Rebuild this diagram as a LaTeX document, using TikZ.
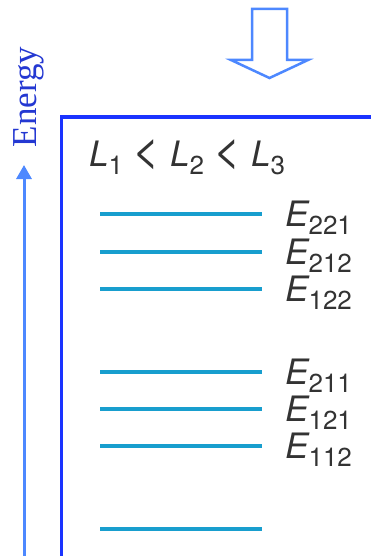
\documentclass[tikz,border=0pt]{standalone}
\usepackage{fontspec}
\setmainfont{TeX Gyre Heros}
\newfontfamily\serifword{Liberation Serif}
\usetikzlibrary{arrows.meta}
\definecolor{wallblue}{RGB}{26,51,255}
\definecolor{arrowblue}{RGB}{77,136,255}
\definecolor{wordblue}{RGB}{36,56,210}
\definecolor{levelcyan}{RGB}{24,158,206}
\definecolor{labelgray}{RGB}{51,51,51}
\newcommand{\bigfont}{\fontsize{35}{40}\selectfont}
\newcommand{\subfont}{\fontsize{26}{29}\selectfont}
\newcommand{\lab}[2]{{\itshape #1}\raisebox{-8pt}{\subfont #2}}
\newcommand{\lessthan}{\scalebox{1.35}{<}}
\tikzset{
  level/.style={draw=levelcyan, line width=3.4pt},
  elabel/.style={anchor=base west, text=labelgray, inner sep=0pt, font=\bigfont},
}
\begin{document}
\begin{tikzpicture}[x=1pt, y=-1pt]
\clip (0,0) rectangle (371,556);
\fill[white] (0,0) rectangle (371,556);

% well walls
\draw[wallblue, line width=3.5pt] (61.5,570) -- (61.5,117) -- (380,117);

% hollow incoming arrow
\draw[arrowblue, line width=2.5pt, line join=miter]
  (252,9) -- (287,9) -- (287,60) -- (308,60) -- (269.5,78) -- (231,60) -- (252,60) -- cycle;

% energy axis
\coordinate (ebot) at (24,560);
\coordinate (etop) at (24,165);
\draw[arrowblue, line width=3pt, -{Triangle[length=14pt,width=15pt]}] (ebot) -- (etop);
\node[rotate=90, anchor=base, inner sep=0pt, text=wordblue]
  (energy) at (36,97) {\serifword\fontsize{35}{40}\selectfont Energy};

% box-length ordering
\node[elabel] (order) at (89,167)
  {\lab{L}{1} \lessthan{} \lab{L}{2} \lessthan{} \lab{L}{3}};

% energy levels
\foreach \nm/\yy in {l221/214, l212/252, l122/289, l211/372, l121/409, l112/446, l111/529}
  \draw[level] (100,\yy) -- (262,\yy) coordinate (\nm);

% level labels
\foreach \nm/\sub/\yy in {e221/221/214, e212/212/252, e122/122/289, e211/211/372, e121/121/409, e112/112/446}
  \node[elabel] (\nm) at (285,\yy+12.5) {\lab{E}{\sub}};
\end{tikzpicture}
\end{document}
